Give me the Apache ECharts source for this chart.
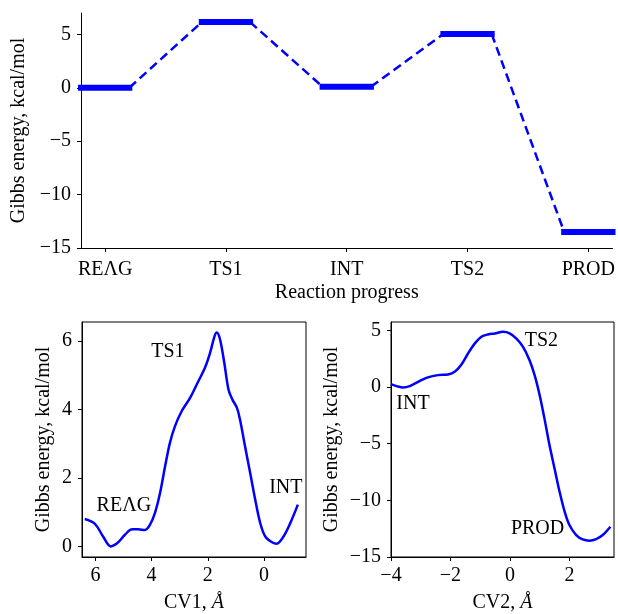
<!DOCTYPE html>
<html><head><meta charset="utf-8">
<script src="https://cdn.jsdelivr.net/npm/echarts@6/dist/echarts.min.js"></script>
<style>html,body{margin:0;padding:0;background:#fff}#c{width:618px;height:614px}</style>
</head><body><div id="c"></div>
<script>
// ---- data ----
const stages = ['REΛG', 'TS1', 'INT', 'TS2', 'PROD'];
const stageEnergy = [0, 6.15, 0.1, 5.03, -13.5];

const cv1 = [6.38, 6.02, 5.73, 5.45, 5.19, 4.95, 4.69, 4.48, 4.24, 4.06, 3.88, 3.70, 3.52, 3.35, 3.17, 2.93, 2.63, 2.34, 2.10, 1.92, 1.76, 1.68, 1.56, 1.41, 1.26, 1.12, 0.96, 0.85, 0.67, 0.49, 0.31, 0.13, -0.05, -0.29, -0.46, -0.70, -0.94, -1.21];
const g1  = [0.80, 0.66, 0.29, 0.00, 0.12, 0.34, 0.50, 0.50, 0.48, 0.63, 0.98, 1.56, 2.34, 3.02, 3.51, 3.95, 4.34, 4.82, 5.22, 5.65, 6.14, 6.25, 6.04, 5.36, 4.58, 4.29, 4.05, 3.70, 2.92, 2.15, 1.37, 0.68, 0.29, 0.12, 0.08, 0.29, 0.68, 1.22];

const cv2 = [-4.0, -3.81, -3.59, -3.37, -3.09, -2.76, -2.42, -2.08, -1.86, -1.63, -1.41, -1.18, -0.96, -0.74, -0.51, -0.23, -0.01, 0.21, 0.44, 0.66, 0.83, 1.0, 1.16, 1.33, 1.50, 1.67, 1.84, 2.0, 2.23, 2.45, 2.67, 2.90, 3.12, 3.38];
const g2  = [0.26, 0.09, -0.03, 0.09, 0.47, 0.86, 1.06, 1.12, 1.35, 2.0, 2.97, 3.86, 4.44, 4.65, 4.74, 4.88, 4.74, 4.30, 3.56, 2.38, 1.06, -0.71, -2.76, -5.12, -7.18, -9.24, -11.0, -12.18, -13.06, -13.45, -13.56, -13.42, -13.06, -12.33];

const topYTicks = [-15, -10, -5, 0, 5];
const cv1Ticks = [0, 2, 4, 6];
const e1Ticks = [0, 2, 4, 6];
const cv2Ticks = [-4, -2, 0, 2];
const e2Ticks = [-15, -10, -5, 0, 5];

const labels1 = [['REΛG', 4.99, 1.19], ['TS1', 3.42, 5.69], ['INT', -0.78, 1.71]];
const labels2 = [['INT', -3.26, -1.44], ['TS2', 1.06, 4.06], ['PROD', 0.93, -12.47]];

// ---- styles ----
const FONT = "'Liberation Serif', 'Times New Roman', serif";
const FS = 20;
const BLUE = '#0000ff';
const minus = v => String(v).replace('-', '\u2212');
const tickStyle = { show: true, length: 4, lineStyle: { color: '#000', width: 1 } };
const lineAx = { show: true, onZero: false, lineStyle: { color: '#000', width: 1 } };
const lbl = (vals, fmt, m) => ({ customValues: vals, color: '#000', fontSize: FS, fontFamily: FONT, margin: m || 10, formatter: fmt || minus });
const HW = 0.2; // half-width of each level bar in stage units

const series = [];
stageEnergy.forEach((v, i) => {
  series.push({ type: 'line', xAxisIndex: 0, yAxisIndex: 0, symbol: 'none', silent: true,
    data: [[i - HW, v], [i + HW, v]],
    lineStyle: { color: BLUE, width: 6, cap: 'square' }, z: 3 });
  if (i < stageEnergy.length - 1) {
    series.push({ type: 'line', xAxisIndex: 0, yAxisIndex: 0, symbol: 'none', silent: true,
      data: [[i + HW, v], [i + 1 - HW, stageEnergy[i + 1]]],
      lineStyle: { color: BLUE, width: 2.5, type: [9, 5], cap: 'butt' }, z: 2 });
  }
});
series.push({ type: 'line', xAxisIndex: 1, yAxisIndex: 1, symbol: 'none', smooth: 0.35, silent: true,
  data: cv1.map((x, k) => [x, g1[k]]), lineStyle: { color: BLUE, width: 2.5 } });
series.push({ type: 'line', xAxisIndex: 2, yAxisIndex: 2, symbol: 'none', smooth: 0.35, silent: true,
  data: cv2.map((x, k) => [x, g2[k]]), lineStyle: { color: BLUE, width: 2.5 } });
const labelSeries = (arr, ai) => ({ type: 'scatter', xAxisIndex: ai, yAxisIndex: ai, symbolSize: 0, silent: true,
  itemStyle: { opacity: 1 },
  data: arr.map(d => ({ value: [d[1], d[2]], name: d[0] })),
  label: { show: true, position: 'inside', formatter: p => p.name, color: '#000', opacity: 1, textBorderWidth: 0,
    fontSize: FS, fontFamily: FONT } });
series.push(labelSeries(labels1, 1));
series.push(labelSeries(labels2, 2));

const nameStyle = { color: '#000', fontSize: FS, fontFamily: FONT };
const cvName = n => ({
  name: '{n|' + n + ', }{i|Å}',
  nameTextStyle: { rich: { n: { fontSize: FS, fontFamily: FONT, color: '#000' }, i: { fontSize: FS, fontFamily: FONT, fontStyle: 'italic', color: '#000' } } }
});

const option = {
  backgroundColor: '#fff',
  animation: false,
  grid: [
    { left: 81, top: 13, width: 533, height: 235 },
    { left: 82, top: 322, width: 224, height: 235, show: true, borderColor: '#000', borderWidth: 1, backgroundColor: 'transparent' },
    { left: 391, top: 322, width: 223, height: 235, show: true, borderColor: '#000', borderWidth: 1, backgroundColor: 'transparent' }
  ],
  xAxis: [
    { gridIndex: 0, type: 'value', min: -0.2, max: 4.2, axisLine: lineAx, axisTick: Object.assign({ customValues: [0, 1, 2, 3, 4] }, tickStyle),
      axisLabel: lbl([0, 1, 2, 3, 4], v => stages[Math.round(v)] || '', 12), splitLine: { show: false },
      name: 'Reaction progress', nameLocation: 'middle', nameGap: 35, nameTextStyle: nameStyle },
    Object.assign({ gridIndex: 1, type: 'value', inverse: true, min: -1.5, max: 6.48, axisLine: lineAx,
      axisTick: Object.assign({ customValues: cv1Ticks }, tickStyle), axisLabel: lbl(cv1Ticks, null, 9), splitLine: { show: false },
      nameLocation: 'middle', nameGap: 36 }, cvName('CV1')),
    Object.assign({ gridIndex: 2, type: 'value', min: -4, max: 3.5, axisLine: lineAx,
      axisTick: Object.assign({ customValues: cv2Ticks }, tickStyle), axisLabel: lbl(cv2Ticks, null, 9), splitLine: { show: false },
      nameLocation: 'middle', nameGap: 36 }, cvName('CV2'))
  ],
  yAxis: [
    { gridIndex: 0, type: 'value', min: -15, max: 7, axisLine: lineAx, axisTick: Object.assign({ customValues: topYTicks }, tickStyle),
      axisLabel: lbl(topYTicks), splitLine: { show: false },
      name: 'Gibbs energy, kcal/mol', nameLocation: 'middle', nameGap: 46, nameTextStyle: nameStyle },
    { gridIndex: 1, type: 'value', min: -0.31, max: 6.56, axisLine: lineAx, axisTick: Object.assign({ customValues: e1Ticks }, tickStyle),
      axisLabel: lbl(e1Ticks), splitLine: { show: false },
      name: 'Gibbs energy, kcal/mol', nameLocation: 'middle', nameGap: 28, nameTextStyle: nameStyle },
    { gridIndex: 2, type: 'value', min: -15, max: 5.75, axisLine: lineAx, axisTick: Object.assign({ customValues: e2Ticks }, tickStyle),
      axisLabel: lbl(e2Ticks), splitLine: { show: false },
      name: 'Gibbs energy, kcal/mol', nameLocation: 'middle', nameGap: 49, nameTextStyle: nameStyle }
  ],
  series: series
};
const chart = echarts.init(document.getElementById('c'), null, { renderer: 'canvas' });
chart.setOption(option);
</script></body></html>
